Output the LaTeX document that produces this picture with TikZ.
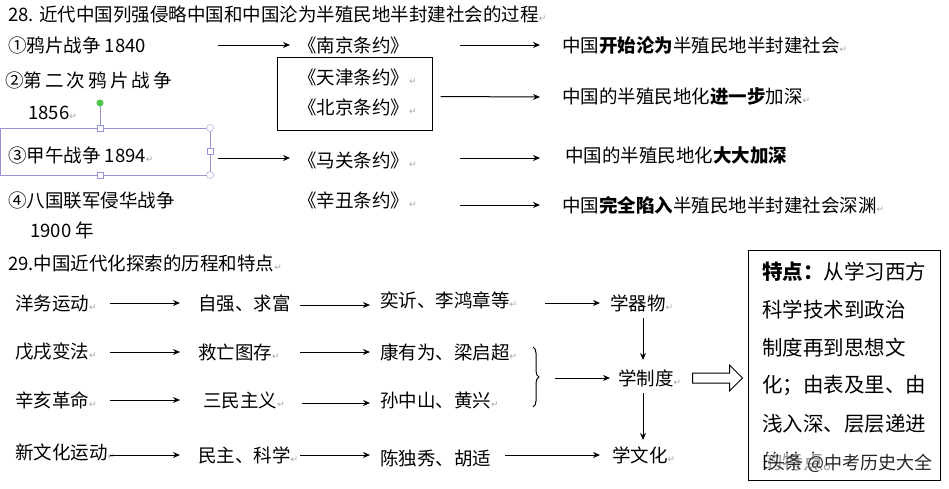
\documentclass[tikz,border=0pt]{standalone}
\usepackage{fontspec}
\setmainfont{Liberation Serif}
\newfontfamily\cjk{Noto Sans CJK SC}
\newfontfamily\dv{DejaVu Sans}
\usetikzlibrary{arrows.meta,decorations.pathreplacing,shapes.arrows}
\begin{document}
\begin{tikzpicture}[x=1pt,y=-1pt,
  t/.style={anchor=west,inner sep=0pt,font=\cjk\fontsize{18.5}{20}\selectfont},
  ar/.style={-{Stealth[length=7pt,width=6pt]},line width=1pt}]
\useasboundingbox[fill=white] (0,0) rectangle (949,488);
\newcommand{\B}[1]{\textbf{#1}}
\newcommand{\pmk}{\textcolor{gray!70}{\dv\fontsize{9}{9}\selectfont ↵}}
\node[t] (h1) at (8,14) {28. 近代中国列强侵略中国和中国沦为半殖民地半封建社会的过程\pmk};
% row 1
\node[t] (a1) at (8,45) {①鸦片战争 1840};
\node[t] (b1) at (298,45) {《南京条约》};
\node[t] (c1) at (562,45) {中国\B{开始沦为}半殖民地半封建社会\pmk};
\coordinate (a1e) at (218,45); \coordinate (b1w) at (290,45);
\draw[ar] (a1e) -- (b1w);
\coordinate (b1e) at (460,45); \coordinate (c1w) at (540,45);
\draw[ar] (b1e) -- (c1w);
% row 2
\node[t] (a2) at (5,80) {②第\,二\,次\,鸦\,片\,战\,争};
\node[t] (a2b) at (28,113) {1856\pmk};
\node[draw,line width=1pt,minimum width=155pt,minimum height=73pt] (bx) at (354.5,93.5) {};
\node[t] (b2) at (298,77) {《天津条约》\pmk};
\node[t] (b2b) at (298,107) {《北京条约》\pmk};
\node[t] (c2) at (562,97) {中国的半殖民地化\B{进一步}加深\pmk};
\coordinate (c2w) at (540,97);
\draw[ar] (bx.east) ++(8,3) coordinate (bxe) -- (c2w);
% selection handles
\draw[gray!60!blue!60] (0,128) rectangle (210,175);
\coordinate (hg) at (100,103);
\draw[gray!60!blue!60] (hg) -- (100,128);
\fill[green!70!black!70] (hg) circle (3.5);
\foreach \p in {(100,128),(100,175),(210,151)} \draw[gray!60!blue!60,fill=white] \p ++(-3,-3) rectangle ++(6,6);
\foreach \p in {(210,128),(210,175)} \draw[gray!60!blue!60,fill=white] \p circle (3.5);
% row 3
\node[t] (a3) at (8,155) {③甲午战争 1894\pmk};
\node[t] (b3) at (298,160) {《马关条约》\pmk};
\node[t] (c3) at (565,155) {中国的半殖民地化\B{大大加深}};
\draw[ar] (218,158) coordinate (a3e) -- (290,158) coordinate (b3w);
\draw[ar] (460,158) coordinate (b3e) -- (540,158) coordinate (c3w);
% row 4
\node[t] (a4) at (8,200) {④八国联军侵华战争};
\node[t] (a4b) at (30,230) {1900 年};
\node[t] (b4) at (298,200) {《辛丑条约》\pmk};
\node[t] (c4) at (562,205) {中国\B{完全陷入}半殖民地半封建社会深渊\pmk};
\draw[ar] (460,205) coordinate (b4e) -- (540,205) coordinate (c4w);
% part 29
\node[t] (h2) at (8,263) {29.中国近代化探索的历程和特点\pmk};
\node[t] (p1) at (15,303) {洋务运动\pmk};
\node[t] (p2) at (15,352) {戊戌变法\pmk};
\node[t] (p3) at (15,400) {辛亥革命\pmk};
\node[t] (p4) at (15,452) {新文化运动\pmk};
\node[t] (q1) at (198,303) {自强、求富};
\node[t] (q2) at (198,352) {救亡图存\pmk};
\node[t] (q3) at (203,400) {三民主义\pmk};
\node[t] (q4) at (198,455) {民主、科学\pmk};
\node[t] (r1) at (380,300) {奕䜣、李鸿章等\pmk};
\node[t] (r2) at (380,352) {康有为、梁启超\pmk};
\node[t] (r3) at (380,400) {孙中山、黄兴\pmk};
\node[t] (r4) at (380,458) {陈独秀、胡适};
\node[t] (s1) at (610,303) {学器物\pmk};
\node[t] (s2) at (618,378) {学制度\pmk};
\node[t] (s3) at (612,455) {学文化\pmk};
\foreach \y in {303,352,400,455} {\draw[ar] (110,\y) -- (180,\y);}
\draw[ar] (300,305) -- (370,305);
\draw[ar] (300,352) -- (370,352);
\draw[ar] (302,403) -- (370,403);
\draw[ar] (300,455) -- (370,455);
\draw[ar] (545,303) -- (600,303);
\draw[ar] (505,455) -- (600,455);
\draw[line width=1pt,decorate,decoration={brace,amplitude=6pt}] (533,347) -- (533,407);
\draw[ar] (555,378) -- (610,378);
\draw[ar] (643,318) -- (643,360);
\draw[ar] (643,393) -- (643,440);
\node[single arrow,draw,line width=1pt,minimum height=50pt,minimum width=26pt,single arrow head extend=4pt,inner sep=2pt] (ba) at (715,378) {};
\node[draw,line width=1pt,minimum width=192pt,minimum height=230pt] (kb) at (844,365) {};
\foreach \l [count=\i] in {{\B{特点：}从学习西方},{科学技术到政治},{制度再到思想文},{化；由表及里、由},{浅入深、层层递进},{的特点。}}
  \node[t,font=\cjk\fontsize{20.5}{22}\selectfont] at (762,234+\i*38) {\l};
\node[anchor=east,inner sep=1pt,fill=white,fill opacity=0.6,text opacity=1,text=black!85,font=\cjk\fontsize{18}{19}\selectfont] (wm) at (934,463) {头条 @中考历史大全};
\end{tikzpicture}
\end{document}
